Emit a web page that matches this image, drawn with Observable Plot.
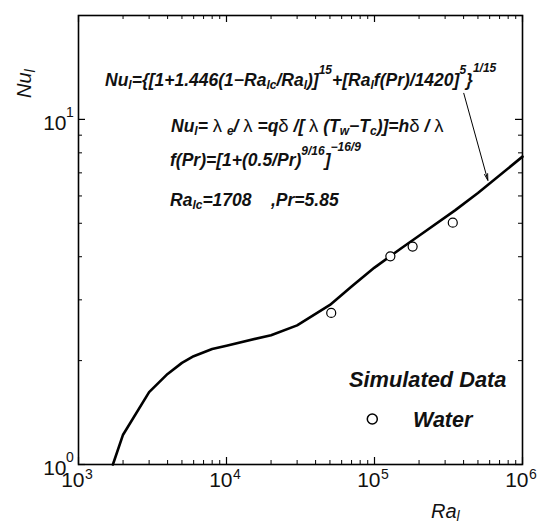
<!DOCTYPE html>
<html>
<head>
<meta charset="utf-8">
<script src="https://cdn.jsdelivr.net/npm/d3@7"></script>
<script src="https://cdn.jsdelivr.net/npm/@observablehq/plot@0.6"></script>
<style>
  html, body { margin: 0; padding: 0; background: #fff; }
  svg { font-family: "Liberation Sans", Arial, sans-serif; }
</style>
</head>
<body>
<div id="chart"></div>
<script>
// ---- data ----
const curveRa = [1708, 2000, 3000, 4000, 5000, 6000, 8000, 1e4, 2e4, 3e4, 5e4, 7e4, 1e5, 1.5e5, 2e5, 3.5e5, 5e5, 1e6];
const curveNu = [1.00, 1.22, 1.62, 1.83, 1.97, 2.06, 2.16, 2.21, 2.37, 2.53, 2.90, 3.28, 3.72, 4.22, 4.60, 5.45, 6.12, 7.80];
const waterRa = [51000, 128000, 181000, 338000];
const waterNu = [2.75, 4.01, 4.28, 5.02];
const arrowFrom = [4.01e5, 11.9];
const arrowTo = [5.83e5, 6.66];
const xDomain = [1e3, 1e6];
const yDomain = [1, 20];
const xMajor = [1e3, 1e4, 1e5, 1e6];
const xExp = ["3", "4", "5", "6"];
const yMajor = [1, 10];
const yExp = ["0", "1"];

// ---- layout ----
const width = 537, height = 525;
const mT = 15, mR = 15, mB = 61, mL = 78;
const fW = width - mL - mR, fH = height - mT - mB;

const curve = curveRa.map((r, i) => ({ra: r, nu: curveNu[i]}));
const water = waterRa.map((r, i) => ({ra: r, nu: waterNu[i]}));
const xMinor = d3.scaleLog().domain(xDomain).ticks().filter(d => !xMajor.includes(d));
const yMinor = d3.scaleLog().domain(yDomain).ticks().filter(d => !yMajor.includes(d));
const xLab = xMajor.map((v, i) => ({v, e: xExp[i]}));
const yLab = yMajor.map((v, i) => ({v, e: yExp[i]}));

const font = "Liberation Sans, Arial, sans-serif";

const svg = Plot.plot({
  width, height,
  marginTop: mT, marginRight: mR, marginBottom: mB, marginLeft: mL,
  style: {fontFamily: font, background: "white", overflow: "visible"},
  x: {type: "log", domain: xDomain, axis: null},
  y: {type: "log", domain: yDomain, axis: null},
  marks: [
    // inward ticks, four sides
    Plot.tickX(xMinor, {x: d => d, insetTop: fH - 4, stroke: "black", strokeWidth: 1}),
    Plot.tickX(xMajor, {x: d => d, insetTop: fH - 7, stroke: "black", strokeWidth: 1.2}),
    Plot.tickX(xMinor, {x: d => d, insetBottom: fH - 4, stroke: "black", strokeWidth: 1}),
    Plot.tickX(xMajor, {x: d => d, insetBottom: fH - 7, stroke: "black", strokeWidth: 1.2}),
    Plot.tickY(yMinor, {y: d => d, insetRight: fW - 4, stroke: "black", strokeWidth: 1}),
    Plot.tickY(yMajor, {y: d => d, insetRight: fW - 7, stroke: "black", strokeWidth: 1.2}),
    Plot.tickY(yMinor, {y: d => d, insetLeft: fW - 4, stroke: "black", strokeWidth: 1}),
    Plot.tickY(yMajor, {y: d => d, insetLeft: fW - 7, stroke: "black", strokeWidth: 1.2}),
    Plot.frame({stroke: "black", strokeWidth: 1.6}),
    // tick labels
    Plot.text(xLab, {x: "v", text: () => "10", frameAnchor: "bottom", textAnchor: "end", dx: 6, dy: 22, fontSize: 21, fill: "#111"}),
    Plot.text(xLab, {x: "v", text: "e", frameAnchor: "bottom", textAnchor: "start", dx: 6.5, dy: 14, fontSize: 14, fill: "#111"}),
    Plot.text(yLab, {y: "v", text: () => "10", frameAnchor: "left", textAnchor: "end", dx: -12, dy: 4, fontSize: 21, fill: "#111"}),
    Plot.text(yLab, {y: "v", text: "e", frameAnchor: "left", textAnchor: "start", dx: -12.5, dy: -7, fontSize: 14, fill: "#111"}),
    // curve, points, arrow
    Plot.line(curve, {x: "ra", y: "nu", stroke: "black", strokeWidth: 2.6, curve: "linear"}),
    Plot.dot(water, {x: "ra", y: "nu", r: 4.5, stroke: "black", fill: "white", strokeWidth: 1.2}),
    Plot.arrow([{x1: arrowFrom[0], y1: arrowFrom[1], x2: arrowTo[0], y2: arrowTo[1]}],
      {x1: "x1", y1: "y1", x2: "x2", y2: "y2", stroke: "black", strokeWidth: 1, headLength: 10, headAngle: 28})
  ]
});

// ---- rich text annotations (sub/superscripts) ----
const root = d3.select(svg);
function rich(x, y, parts, size, subSize = 12) {
  const t = root.append("text")
    .attr("x", x).attr("y", y)
    .attr("text-anchor", "start")
    .attr("font-family", font)
    .attr("font-size", size)
    .attr("font-weight", "bold")
    .attr("font-style", "italic")
    .attr("fill", "#111")
    .style("white-space", "pre");
  let cur = 0;
  for (const p of parts) {
    const [txt, mode, shift] = p;
    let target = 0, fs = size;
    if (mode === "sub") { target = shift ?? 3; fs = subSize; }
    else if (mode === "sup") { target = shift ?? -12; fs = subSize; }
    const ts = t.append("tspan").text(txt).attr("dy", target - cur).attr("font-size", fs);
    if (mode === "g") ts.attr("font-weight", "normal").attr("font-style", "normal").attr("font-size", size + 1);
    cur = target;
  }
  return t;
}

const EQ = 17.5;
rich(105, 86, [
  ["Nu"], ["l", "sub"], ["={[1+1.446(1\u2212Ra"], ["lc", "sub"], ["/Ra"], ["l", "sub"], [")]"],
  ["15", "sup"], ["+[Ra"], ["l", "sub"], ["f(Pr)/1420]"], ["5", "sup"], ["}"], ["1/15", "sup", -14]
], EQ);

rich(171, 132, [
  ["Nu"], ["l", "sub"], ["= "], ["\u03bb", "g"], [" "], ["e", "sub"], ["/ "], ["\u03bb", "g"], [" =q"],
  ["\u03b4", "g"], [" /[ "], ["\u03bb", "g"], [" (T"], ["w", "sub"], ["\u2212T"], ["c", "sub"], [")]=h"],
  ["\u03b4", "g"], [" / "], ["\u03bb", "g"]
], EQ);

rich(170, 166, [
  ["f(Pr)=[1+(0.5/Pr)"], ["9/16", "sup", -11], ["]"], ["\u221216/9", "sup", -15]
], EQ);

rich(170, 206, [
  ["Ra"], ["lc", "sub"], ["=1708    ,Pr=5.85"]
], EQ);

// legend
rich(349, 387, [["Simulated Data"]], 21.8);
rich(413, 427, [["Water"]], 21.5);
root.append("circle").attr("cx", 372.3).attr("cy", 419).attr("r", 5)
  .attr("fill", "white").attr("stroke", "black").attr("stroke-width", 1.5);

// axis titles
root.append("text").attr("transform", "translate(31,98) rotate(-90)")
  .attr("text-anchor", "start")
  .attr("font-family", font).attr("font-size", 20).attr("font-style", "italic").attr("fill", "#111")
  .call(t => { t.append("tspan").text("Nu"); t.append("tspan").text("l").attr("font-size", 14).attr("dy", 4); });
root.append("text").attr("x", 431).attr("y", 518)
  .attr("text-anchor", "start")
  .attr("font-family", font).attr("font-size", 20).attr("font-style", "italic").attr("fill", "#111")
  .call(t => { t.append("tspan").text("Ra"); t.append("tspan").text("l").attr("font-size", 14).attr("dy", 3); });

document.getElementById("chart").appendChild(svg);
</script>
</body>
</html>
